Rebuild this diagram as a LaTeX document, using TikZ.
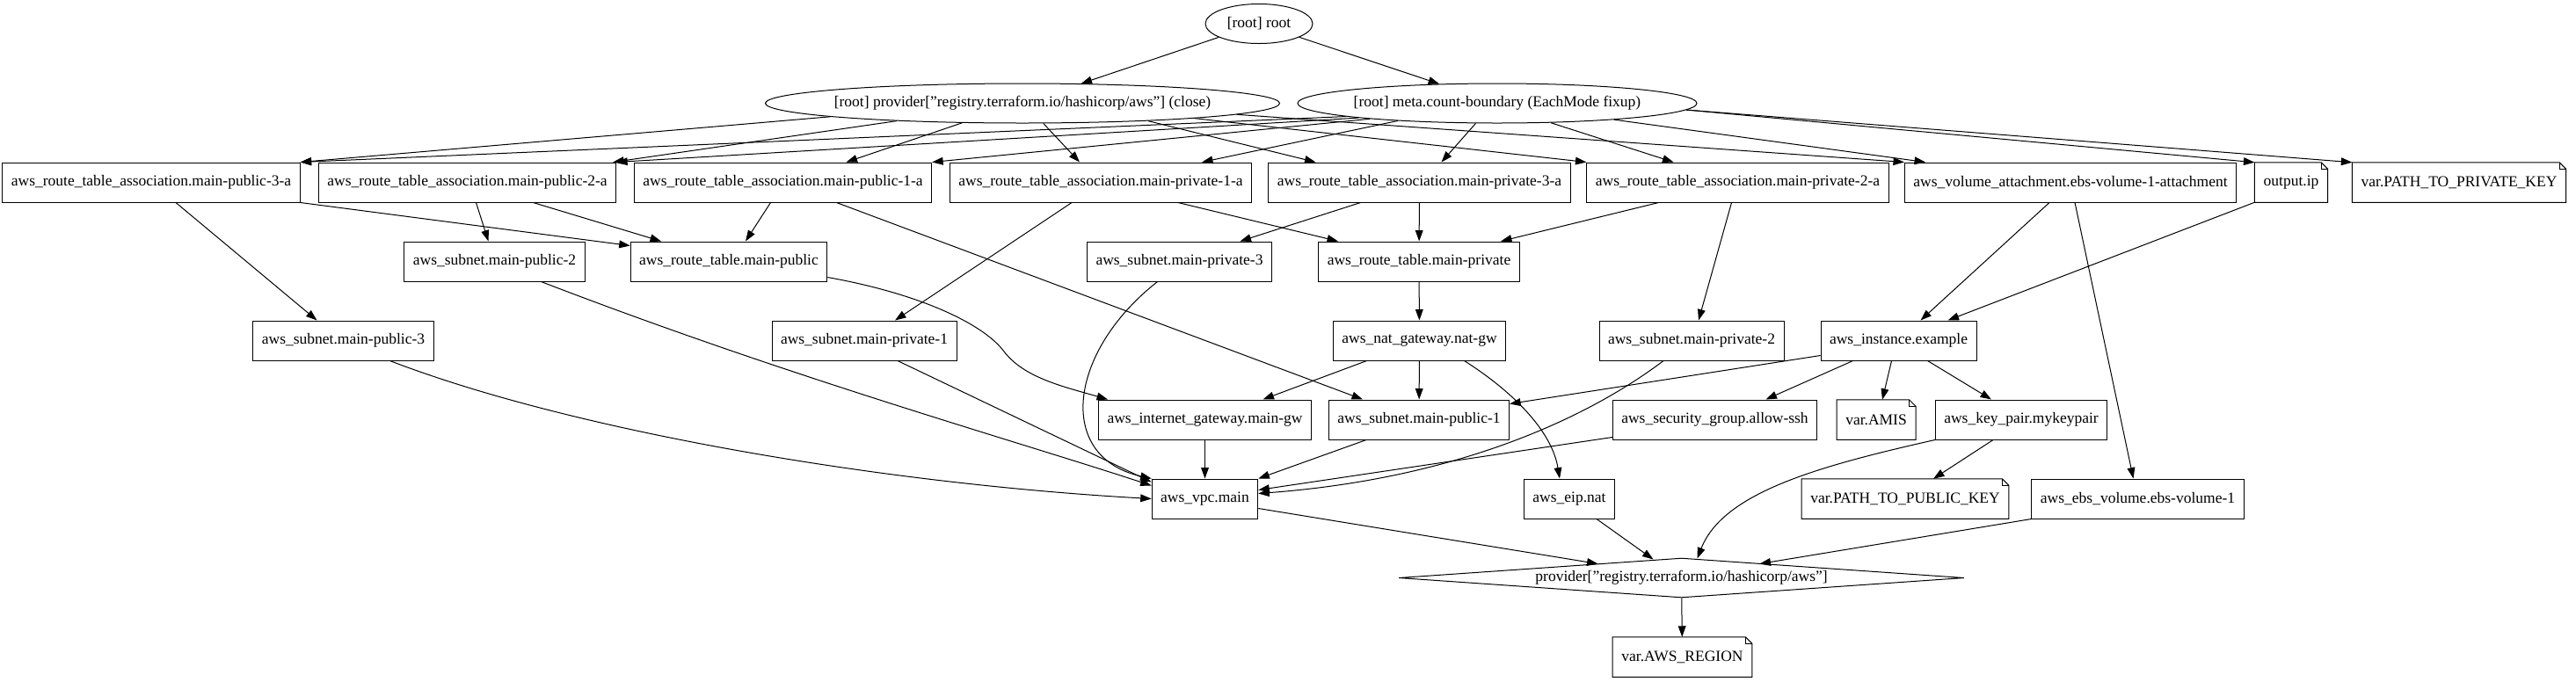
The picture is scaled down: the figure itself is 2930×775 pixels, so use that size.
\documentclass[tikz,border=0pt]{standalone}
\usepackage{fontspec}
\setmainfont{Liberation Serif}
\usetikzlibrary{shapes.geometric,arrows.meta,calc}
\tikzset{
  box/.style={draw, rectangle, line width=0.8pt, minimum height=36pt, inner xsep=8pt, inner ysep=0pt},
  notebox/.style={rectangle, minimum height=36pt, inner xsep=8pt, inner ysep=0pt},
  ell/.style={draw, ellipse, line width=0.8pt, inner sep=0pt, minimum height=36pt},
  dia/.style={draw, diamond, line width=0.8pt, inner sep=0pt, minimum height=36pt},
  conn/.style={line width=0.8pt, -{Triangle[length=10pt,width=7pt]}},
  notel/.style={line width=0.8pt, line join=miter},
}
\begin{document}
\begin{tikzpicture}[x=0.8pt, y=-0.8pt, font=\fontsize{14pt}{16.8pt}\selectfont]
\useasboundingbox (0,0) rectangle (2930,775);

% ellipses
\node[ell, minimum width=97.6pt] (root) at (1432,27) {\makebox[0pt]{[root] root}};
\node[ell, minimum width=468pt] (pclose) at (1163,117.5) {\makebox[0pt]{[root] provider["registry.terraform.io/hashicorp/aws"] (close)}};
\node[ell, minimum width=363.2pt] (meta) at (1703,117.5) {\makebox[0pt]{[root] meta.count-boundary (EachMode fixup)}};

% row 1
\node[box] (rpub3) at (172,207.5) {aws\_route\_table\_association.main-public-3-a};
\node[box] (rpub2) at (531.5,207.5) {aws\_route\_table\_association.main-public-2-a};
\node[box] (rpub1) at (890.5,207.5) {aws\_route\_table\_association.main-public-1-a};
\node[box] (rpriv1) at (1252,207.5) {aws\_route\_table\_association.main-private-1-a};
\node[box] (rpriv3) at (1614.5,207.5) {aws\_route\_table\_association.main-private-3-a};
\node[box] (rpriv2) at (1976.5,207.5) {aws\_route\_table\_association.main-private-2-a};
\node[box] (volatt) at (2355,207.5) {aws\_volume\_attachment.ebs-volume-1-attachment};
\node[notebox] (outip) at (2606,207.5) {output.ip};
\node[notebox] (pathpriv) at (2797,207.5) {var.PATH\_TO\_PRIVATE\_KEY};

% row 2
\node[box] (spub2) at (562.5,297.5) {aws\_subnet.main-public-2};
\node[box] (rtpub) at (829,297.5) {aws\_route\_table.main-public};
\node[box] (spriv3) at (1341.5,297.5) {aws\_subnet.main-private-3};
\node[box] (rtpriv) at (1614,297.5) {aws\_route\_table.main-private};

% row 3
\node[box] (spub3) at (390.5,387.5) {aws\_subnet.main-public-3};
\node[box] (spriv1) at (983,387.5) {aws\_subnet.main-private-1};
\node[box] (natgw) at (1614.5,387.5) {aws\_nat\_gateway.nat-gw};
\node[box] (spriv2) at (1924,387.5) {aws\_subnet.main-private-2};
\node[box] (inst) at (2159.5,387.5) {aws\_instance.example};

% row 4
\node[box] (igw) at (1370.5,477.5) {aws\_internet\_gateway.main-gw};
\node[box] (spub1) at (1614,477.5) {aws\_subnet.main-public-1};
\node[box] (sg) at (1950.5,477.5) {aws\_security\_group.allow-ssh};
\node[notebox] (amis) at (2134,477.5) {var.AMIS};
\node[box] (kp) at (2299,477.5) {aws\_key\_pair.mykeypair};

% row 5
\node[box] (vpc) at (1370.5,567.5) {aws\_vpc.main};
\node[box] (eip) at (1785,567.5) {aws\_eip.nat};
\node[notebox] (pathpub) at (2167,567.5) {var.PATH\_TO\_PUBLIC\_KEY};
\node[box] (ebs) at (2431.5,567.5) {aws\_ebs\_volume.ebs-volume-1};

% provider and region
\node[dia, minimum width=514.4pt] (paws) at (1912.5,657.5) {\makebox[0pt]{provider["registry.terraform.io/hashicorp/aws"]}};
\node[notebox] (region) at (1913.5,747.5) {var.AWS\_REGION};

% note outlines
\foreach \n in {outip,pathpriv,amis,pathpub,region}{
  \draw[notel] (\n.south west) -- (\n.north west) -- ([xshift=-6pt]\n.north east) -- ([yshift=-6pt]\n.north east) -- (\n.south east) -- cycle;
  \draw[line width=0.6pt] ([xshift=-6pt]\n.north east) -- ([xshift=-6pt,yshift=-6pt]\n.north east) -- ([yshift=-6pt]\n.north east);
}

% root edges
\draw[conn] (root) -- (pclose);
\draw[conn] (root) -- (meta);

% provider close edges
\draw[conn] (pclose.184.4) -- (rpub3.north east);
\draw[conn] (pclose.188.7) -- ($(rpub2.north east)+(-4,0)$);
\draw[conn] (pclose.198.6) -- ($(rpub1.north)+(72,0)$);
\draw[conn] (pclose.-44) -- ($(rpriv1.north)+(-24,0)$);
\draw[conn] (pclose.-8.6) -- ($(rpriv3.north)+(-118,0)$);
\draw[conn] (pclose.-5.5) -- (rpriv2.north west);
\draw[conn] (pclose.-3.8) -- (volatt.north west);

% meta edges
\draw[conn] (meta.185) -- (rpub3.north east);
\draw[conn] (meta.186) -- (rpub2.north east);
\draw[conn] (meta.187.5) -- (rpub1.north east);
\draw[conn] (meta.190.4) -- ($(rpriv1.north)+(115,0)$);
\draw[conn] (meta.223) -- ($(rpriv3.north)+(25,0)$);
\draw[conn] (meta.-20) -- ($(rpriv2.north)+(-73,0)$);
\draw[conn] (meta.-8) -- ($(volatt.north)+(-165,0)$);
\draw[conn] (meta.-2.5) -- (outip.north west);
\draw[conn] (meta.-2) -- (pathpriv.north west);

% row1 -> lower
\draw[conn] ($(rpub3.south)+(28,0)$) -- ($(spub3.north)+(-30,0)$);
\draw[conn] (rpub3.south east) -- ($(rtpub.north west)+(0,5)$);
\draw[conn] ($(rpub2.south)+(10,0)$) -- ($(spub2.north)+(-7,0)$);
\draw[conn] ($(rpub2.south)+(75,0)$) -- ($(rtpub.north)+(-77,0)$);
\draw[conn] ($(rpub1.south)+(-14,0)$) -- ($(rtpub.north)+(19,0)$);
\draw[conn] ($(rpub1.south)+(61,0)$) -- ($(spub1.north)+(-64,0)$);
\draw[conn] ($(rpriv1.south)+(-33,0)$) -- ($(spriv1.north)+(35,0)$);
\draw[conn] ($(rpriv1.south)+(88,0)$) -- ($(rtpriv.north)+(-92,0)$);
\draw[conn] ($(rpriv3.south)+(-67,0)$) -- ($(spriv3.north)+(69,0)$);
\draw[conn] (rpriv3) -- (rtpriv);
\draw[conn] ($(rpriv2.south)+(-90,0)$) -- ($(rtpriv.north)+(93,0)$);
\draw[conn] ($(rpriv2.south)+(-7,0)$) -- ($(spriv2.north)+(8,0)$);
\draw[conn] ($(volatt.south)+(-24,0)$) -- ($(inst.north)+(25,0)$);
\draw[conn] ($(volatt.south)+(5,0)$) -- ($(ebs.north)+(-5,0)$);
\draw[conn] (outip.south west) -- ($(inst.north)+(56,0)$);

% row2/3 -> lower
\draw[conn] ($(spub2.south)+(53,0)$) .. controls (900,430) and (1150,500) .. ($(vpc.west)+(0,-15)$);
\draw[conn] ($(spub3.south)+(53,0)$) .. controls (650,490) and (1000,550) .. (vpc.west);
\draw[conn] ($(spriv1.south)+(38,0)$) -- ($(vpc.north west)+(0,4)$);
\draw[conn] ($(spriv3.south)+(-25,0)$) .. controls (1215,400) and (1200,520) .. (vpc.north west);
\draw[conn] ($(rtpub.east)+(0,18)$) .. controls (1050,335) and (1120,370) .. (1142,400) .. controls (1165,430) and (1210,440) .. ($(igw.north west)+(11,0)$);
\draw[conn] (rtpriv) -- (natgw);
\draw[conn] ($(natgw.south)+(-60,0)$) -- ($(igw.north)+(66,0)$);
\draw[conn] (natgw) -- (spub1);
\draw[conn] ($(natgw.south)+(51,0)$) .. controls (1720,445) and (1765,490) .. ($(eip.north)+(-11,0)$);
\draw[conn] ($(spriv2.south)+(-32,0)$) .. controls (1800,480) and (1650,545) .. ($(vpc.east)+(0,-6)$);
\draw[conn] ($(inst.south west)+(0,-6)$) -- ($(spub1.north east)+(0,5)$);
\draw[conn] ($(inst.south)+(-52,0)$) -- ($(sg.north)+(58,0)$);
\draw[conn] ($(inst.south)+(-8,0)$) -- ($(amis.north)+(7,0)$);
\draw[conn] ($(inst.south)+(33,0)$) -- ($(kp.north)+(-34,0)$);

% row4/5 -> lower
\draw[conn] (igw) -- (vpc);
\draw[conn] ($(spub1.south)+(-60,0)$) -- (vpc.north east);
\draw[conn] ($(sg.south west)+(0,-3)$) -- ($(vpc.east)+(0,-10)$);
\draw[conn] ($(kp.south)+(-32,0)$) -- ($(pathpub.north)+(32,0)$);
\draw[conn] (kp.south west) .. controls (2070,530) and (1960,560) .. ($(paws.north)+(18,1)$);
\draw[conn] (ebs.south west) -- ($(paws.north)+(89,7)$);
\draw[conn] ($(vpc.east)+(0,11)$) -- ($(paws.north)+(-95,7)$);
\draw[conn] ($(eip.south)+(31,0)$) -- ($(paws.north)+(-32,2)$);
\draw[conn] (paws) -- (region);
\end{tikzpicture}
\end{document}
